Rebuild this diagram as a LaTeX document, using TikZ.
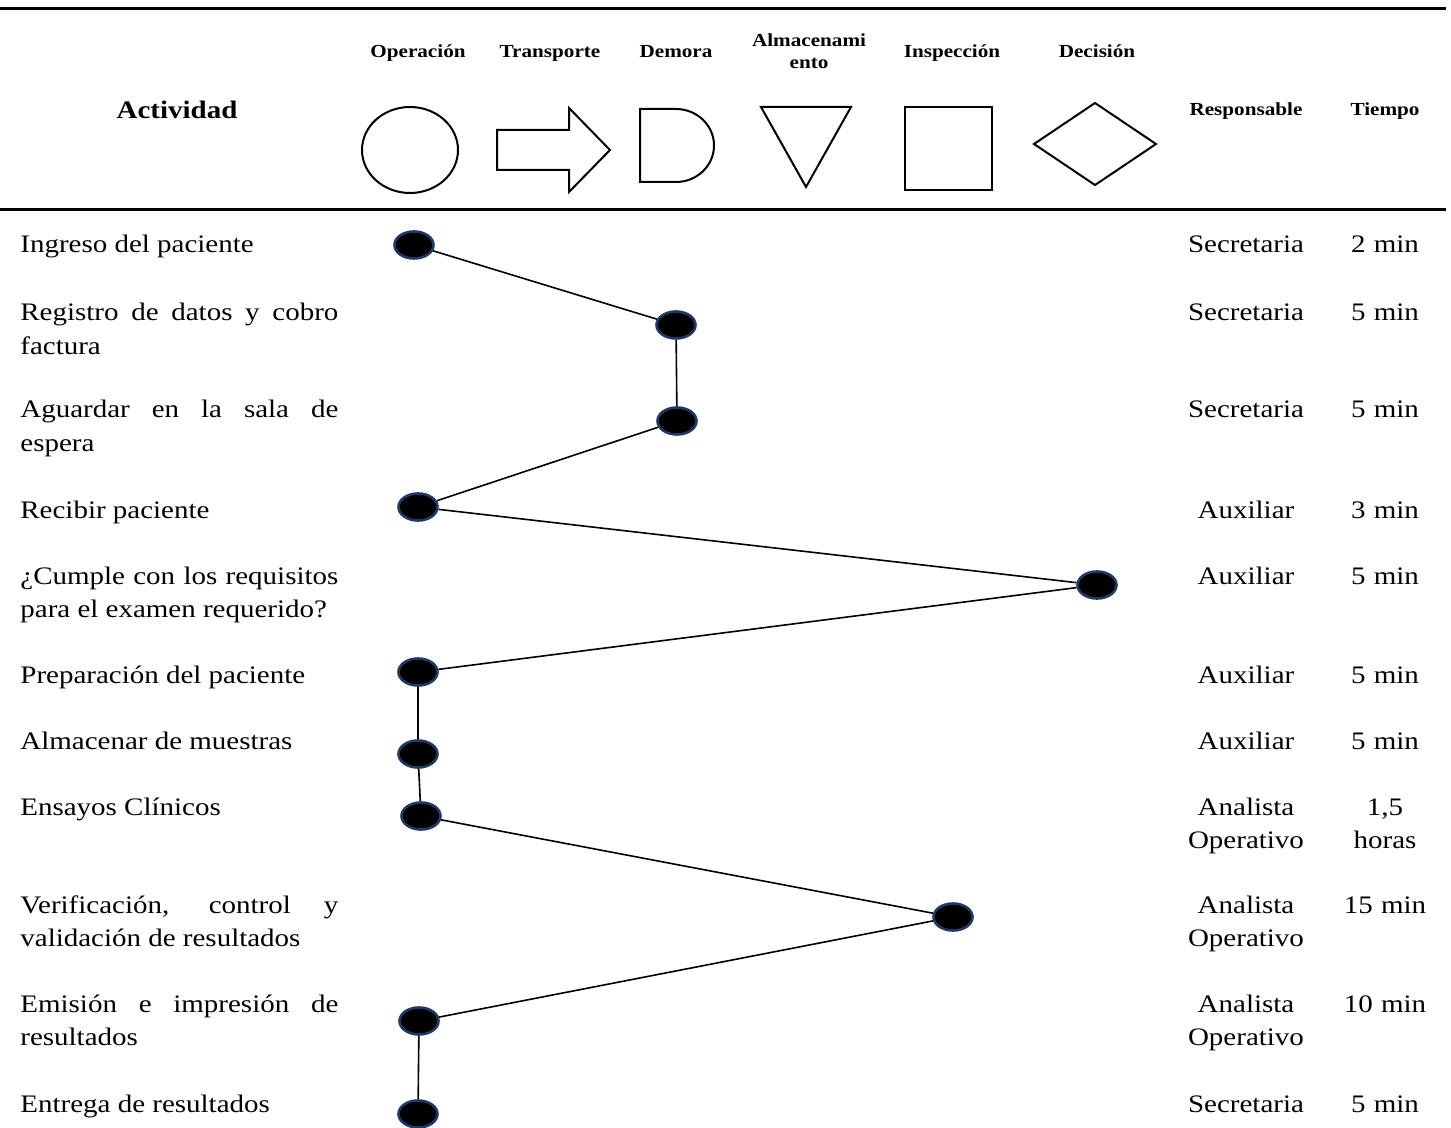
\documentclass[tikz,border=0pt]{standalone}
\usepackage{fontspec}
\setmainfont{Liberation Serif}[FakeStretch=1.15]
\usepackage{tikz}
\usetikzlibrary{shapes.geometric,positioning}
\definecolor{dotrim}{RGB}{31,56,100}
\newcommand{\bodysize}{\fontsize{12.6}{16.6}\selectfont}
\newcommand{\headsize}{\fontsize{9.2}{11}\selectfont\bfseries}
\tikzset{
  head/.style={font=\headsize,align=center,inner sep=0pt,anchor=base},
  act/.style={font=\bodysize,anchor=base west,inner sep=0pt,text width=159pt,align=justify},
  cell/.style={font=\bodysize,anchor=base,inner sep=0pt,text width=80pt,align=center},
  dot/.style={ellipse,draw=dotrim,fill=black,line width=1.3pt,minimum width=19.5pt,
    minimum height=13.5pt,inner sep=0pt},
  sym/.style={draw=black,line width=1pt,line join=miter},
  link/.style={line width=0.8pt},
  rule/.style={line width=1.5pt},
}

\begin{document}
\begin{tikzpicture}[x=0.5pt,y=-0.5pt]
  \useasboundingbox (0,0) rectangle (1451,1128);
  \draw[rule] (0,9) -- (1446,9);
  \draw[rule] (0,210) -- (1446,210);

  \node[head,font=\fontsize{12.6}{15}\selectfont\bfseries] (hAct) at (177,119) {Actividad};
  \node[head] (hOp) at (418,58) {Operación};
  \node[head] (hTr) at (550,58) {Transporte};
  \node[head] (hDe) at (676,58) {Demora};
  \node[head,text width=60pt] (hAl) at (809,47) {Almacenami\\ento};
  \node[head] (hIn) at (952,58) {Inspección};
  \node[head] (hDc) at (1097,58) {Decisión};
  \node[head] (hRe) at (1246,116) {Responsable};
  \node[head] (hTi) at (1385,116) {Tiempo};

  \draw[sym] (410,150) ellipse [x radius=48, y radius=43];
  \draw[sym] (497,130) -- (569,130) -- (569,108) -- (610,150) -- (569,192)
    -- (569,170) -- (497,170) -- cycle;
  \draw[sym] (640,109) -- (676,109) arc[start angle=-90,end angle=90,x radius=38,y radius=36.5]
    -- (640,182) -- cycle;
  \draw[sym] (761,107) -- (851,107) -- (806,187) -- cycle;
  \draw[sym] (905,107) rectangle (992,190);
  \draw[sym] (1034,144) -- (1095,103) -- (1156,144) -- (1095,185) -- cycle;

  \node[act] (a1) at (20,253) {Ingreso del paciente};
  \node[act] (a2) at (20,321) {Registro de datos y cobro\linebreak factura};
  \node[act] (a3) at (20,418) {Aguardar en la sala de\linebreak espera};
  \node[act] (a4) at (20,518) {Recibir paciente};
  \node[act] (a5) at (20,584) {¿Cumple con los requisitos\linebreak para el examen requerido?};
  \node[act] (a6) at (20,683) {Preparación del paciente};
  \node[act] (a7) at (20,749) {Almacenar de muestras};
  \node[act] (a8) at (20,815) {Ensayos Clínicos};
  \node[act] (a9) at (20,913) {Verificación, control y\linebreak validación de resultados};
  \node[act] (a10) at (20,1012) {Emisión e impresión de\linebreak resultados};
  \node[act] (a11) at (20,1112) {Entrega de resultados};

  \node[cell] (r1) at (1246,253) {Secretaria};
  \node[cell] (r2) at (1246,321) {Secretaria};
  \node[cell] (r3) at (1246,418) {Secretaria};
  \node[cell] (r4) at (1246,518) {Auxiliar};
  \node[cell] (r5) at (1246,584) {Auxiliar};
  \node[cell] (r6) at (1246,683) {Auxiliar};
  \node[cell] (r7) at (1246,749) {Auxiliar};
  \node[cell] (r8) at (1246,815) {Analista\\Operativo};
  \node[cell] (r9) at (1246,913) {Analista\\Operativo};
  \node[cell] (r10) at (1246,1012) {Analista\\Operativo};
  \node[cell] (r11) at (1246,1112) {Secretaria};

  \node[cell] (t1) at (1385,253) {2 min};
  \node[cell] (t2) at (1385,321) {5 min};
  \node[cell] (t3) at (1385,418) {5 min};
  \node[cell] (t4) at (1385,518) {3 min};
  \node[cell] (t5) at (1385,584) {5 min};
  \node[cell] (t6) at (1385,683) {5 min};
  \node[cell] (t7) at (1385,749) {5 min};
  \node[cell] (t8) at (1385,815) {1,5\\horas};
  \node[cell] (t9) at (1385,913) {15 min};
  \node[cell] (t10) at (1385,1012) {10 min};
  \node[cell] (t11) at (1385,1112) {5 min};

  \node[dot] (d1) at (414,245) {};
  \node[dot] (d2) at (676,325) {};
  \node[dot] (d3) at (677,421) {};
  \node[dot] (d4) at (418,507) {};
  \node[dot] (d5) at (1097,585) {};
  \node[dot] (d6) at (418,672) {};
  \node[dot] (d7) at (418,754) {};
  \node[dot] (d8) at (421,816) {};
  \node[dot] (d9) at (953,917) {};
  \node[dot] (d10) at (419,1021) {};
  \node[dot] (d11) at (418,1114) {};
  \draw[link] (d1) -- (d2) -- (d3) -- (d4) -- (d5) -- (d6) -- (d7) -- (d8)
    -- (d9) -- (d10) -- (d11);
\end{tikzpicture}
\end{document}
